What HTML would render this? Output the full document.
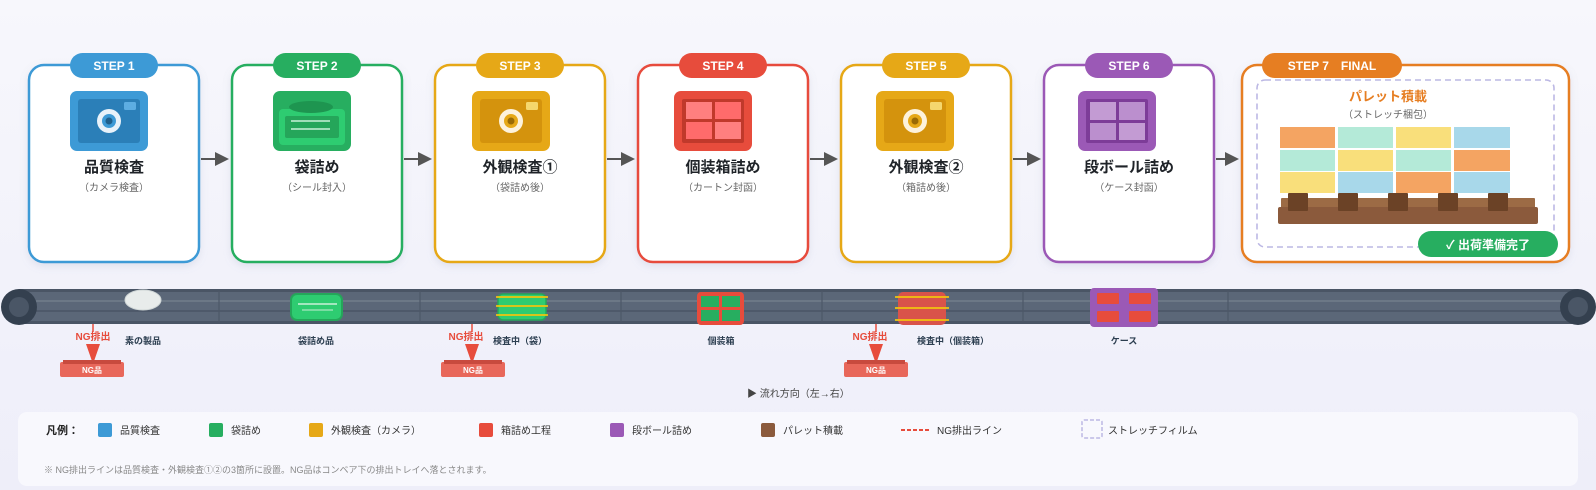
<!DOCTYPE html>
<html><head><meta charset="utf-8">
<style>
html,body{margin:0;padding:0;width:1596px;height:490px;overflow:hidden;background:#f2f2fb;}
svg{display:block;font-family:"Liberation Sans","Noto Sans CJK JP",sans-serif;}
</style></head><body>
<svg width="1596" height="490" viewBox="0 0 1596 490" xmlns="http://www.w3.org/2000/svg">
<defs>
<linearGradient id="bg" x1="0" y1="0" x2="0" y2="1"><stop offset="0" stop-color="#f7f7fc"/><stop offset="1" stop-color="#eeeef9"/></linearGradient>
<filter id="sh" x="-10%" y="-10%" width="120%" height="130%"><feDropShadow dx="0" dy="3" stdDeviation="4" flood-color="#8890b0" flood-opacity="0.18"/></filter>
</defs>
<rect width="1596" height="490" fill="url(#bg)"/>

<!-- Cards -->
<g filter="url(#sh)" stroke-width="2.5" fill="#fff">
<rect x="29" y="65" width="170" height="197" rx="15" stroke="#3d9ad6"/>
<rect x="232" y="65" width="170" height="197" rx="15" stroke="#27ae60"/>
<rect x="435" y="65" width="170" height="197" rx="15" stroke="#e6a817"/>
<rect x="638" y="65" width="170" height="197" rx="15" stroke="#e74c3c"/>
<rect x="841" y="65" width="170" height="197" rx="15" stroke="#e6a817"/>
<rect x="1044" y="65" width="170" height="197" rx="15" stroke="#9b59b6"/>
<rect x="1242" y="65" width="327" height="197" rx="15" stroke="#e67e22"/>
</g>

<!-- Badges -->
<g font-size="12" font-weight="bold" fill="#fff" text-anchor="middle">
<rect x="70" y="53" width="88" height="25" rx="12.5" fill="#3d9ad6"/><text x="114" y="70" fill="#fff">STEP 1</text>
<rect x="273" y="53" width="88" height="25" rx="12.5" fill="#27ae60"/><text x="317" y="70" fill="#fff">STEP 2</text>
<rect x="476" y="53" width="88" height="25" rx="12.5" fill="#e6a817"/><text x="520" y="70" fill="#fff">STEP 3</text>
<rect x="679" y="53" width="88" height="25" rx="12.5" fill="#e74c3c"/><text x="723" y="70" fill="#fff">STEP 4</text>
<rect x="882" y="53" width="88" height="25" rx="12.5" fill="#e6a817"/><text x="926" y="70" fill="#fff">STEP 5</text>
<rect x="1085" y="53" width="88" height="25" rx="12.5" fill="#9b59b6"/><text x="1129" y="70" fill="#fff">STEP 6</text>
<rect x="1262" y="53" width="140" height="25" rx="12.5" fill="#e67e22"/><text x="1332" y="70" fill="#fff">STEP 7　FINAL</text>
</g>

<!-- Icons -->
<!-- 1 camera blue -->
<rect x="70" y="91" width="78" height="60" rx="7" fill="#3d9ad6"/>
<rect x="78" y="99" width="62" height="44" rx="3" fill="#2b7fb8"/>
<rect x="124" y="102" width="12" height="8" rx="1.5" fill="#5dade2"/>
<circle cx="109" cy="121" r="12" fill="#e8f2fa"/><circle cx="109" cy="121" r="7" fill="#3d9ad6"/><circle cx="109" cy="121" r="3.5" fill="#1f5f8b"/>
<!-- 2 bag -->
<rect x="273" y="91" width="78" height="60" rx="7" fill="#27ae60"/>
<rect x="279" y="109" width="66" height="36" rx="4" fill="#2ecc71"/>
<rect x="285" y="116" width="54" height="22" rx="2" fill="#25a65a"/>
<ellipse cx="311" cy="107" rx="22" ry="6" fill="#1e9550"/>
<line x1="291" y1="121" x2="330" y2="121" stroke="#c8f0d8" stroke-width="1.6"/><line x1="291" y1="129" x2="330" y2="129" stroke="#c8f0d8" stroke-width="1.6"/>
<!-- 3 camera yellow -->
<rect x="472" y="91" width="78" height="60" rx="7" fill="#e6a817"/>
<rect x="480" y="99" width="62" height="44" rx="3" fill="#d4930d"/>
<rect x="526" y="102" width="12" height="8" rx="1.5" fill="#f5d76e"/>
<circle cx="511" cy="121" r="12" fill="#fdf2dc"/><circle cx="511" cy="121" r="7" fill="#e6a817"/><circle cx="511" cy="121" r="3.5" fill="#9a6a05"/>
<!-- 4 box red -->
<rect x="674" y="91" width="78" height="60" rx="7" fill="#e74c3c"/>
<rect x="682" y="99" width="62" height="44" rx="2" fill="#c0392b"/>
<rect x="686" y="102" width="26" height="17" fill="#ff7f7f"/><rect x="715" y="102" width="26" height="17" fill="#ff6b6b"/>
<rect x="686" y="122" width="26" height="17" fill="#ff6b6b"/><rect x="715" y="122" width="26" height="17" fill="#ff7f7f"/>
<!-- 5 camera yellow -->
<rect x="876" y="91" width="78" height="60" rx="7" fill="#e6a817"/>
<rect x="884" y="99" width="62" height="44" rx="3" fill="#d4930d"/>
<rect x="930" y="102" width="12" height="8" rx="1.5" fill="#f5d76e"/>
<circle cx="915" cy="121" r="12" fill="#fdf2dc"/><circle cx="915" cy="121" r="7" fill="#e6a817"/><circle cx="915" cy="121" r="3.5" fill="#9a6a05"/>
<!-- 6 purple box -->
<rect x="1078" y="91" width="78" height="60" rx="7" fill="#9b59b6"/>
<rect x="1086" y="99" width="62" height="44" rx="2" fill="#7d3c98"/>
<rect x="1090" y="102" width="26" height="18" fill="#c39bd3"/><rect x="1119" y="102" width="26" height="18" fill="#bb8fce"/>
<rect x="1090" y="123" width="26" height="17" fill="#bb8fce"/><rect x="1119" y="123" width="26" height="17" fill="#c39bd3"/>

<!-- Titles -->
<g text-anchor="middle">
<g font-size="15" font-weight="bold" fill="#1f2328">
<text x="114" y="172">品質検査</text>
<text x="317" y="172">袋詰め</text>
<text x="520" y="172">外観検査①</text>
<text x="723" y="172">個装箱詰め</text>
<text x="926" y="172">外観検査②</text>
<text x="1129" y="172">段ボール詰め</text>
</g>
<g font-size="10" fill="#666">
<text x="114" y="191">（カメラ検査）</text>
<text x="317" y="191">（シール封入）</text>
<text x="520" y="191">（袋詰め後）</text>
<text x="723" y="191">（カートン封函）</text>
<text x="926" y="191">（箱詰め後）</text>
<text x="1129" y="191">（ケース封函）</text>
</g>
</g>

<!-- Arrows -->
<g fill="#555" stroke="#555" stroke-width="2">
<line x1="201" y1="159" x2="216" y2="159"/><polygon points="215,152 229,159 215,166" stroke="none"/>
<line x1="404" y1="159" x2="419" y2="159"/><polygon points="418,152 432,159 418,166" stroke="none"/>
<line x1="607" y1="159" x2="622" y2="159"/><polygon points="621,152 635,159 621,166" stroke="none"/>
<line x1="810" y1="159" x2="825" y2="159"/><polygon points="824,152 838,159 824,166" stroke="none"/>
<line x1="1013" y1="159" x2="1028" y2="159"/><polygon points="1027,152 1041,159 1027,166" stroke="none"/>
<line x1="1216" y1="159" x2="1226" y2="159"/><polygon points="1225,152 1239,159 1225,166" stroke="none"/>
</g>

<!-- Step 7 interior -->
<rect x="1257" y="80" width="297" height="167" rx="8" fill="none" stroke="#bcb8e4" stroke-width="1.6" stroke-dasharray="6,4"/>
<text x="1388" y="101" text-anchor="middle" font-size="13" font-weight="bold" fill="#e67e22">パレット積載</text>
<text x="1388" y="118" text-anchor="middle" font-size="10" fill="#666">（ストレッチ梱包）</text>
<g>
<rect x="1280" y="127" width="55" height="21" fill="#f4a462"/><rect x="1338" y="127" width="55" height="21" fill="#b4ead8"/><rect x="1396" y="127" width="55" height="21" fill="#f9df7b"/><rect x="1454" y="127" width="56" height="21" fill="#a8d8ea"/>
<rect x="1280" y="150" width="55" height="21" fill="#b4ead8"/><rect x="1338" y="150" width="55" height="21" fill="#f9df7b"/><rect x="1396" y="150" width="55" height="21" fill="#b4ead8"/><rect x="1454" y="150" width="56" height="21" fill="#f4a462"/>
<rect x="1280" y="172" width="55" height="21" fill="#f9df7b"/><rect x="1338" y="172" width="55" height="21" fill="#a8d8ea"/><rect x="1396" y="172" width="55" height="21" fill="#f4a462"/><rect x="1454" y="172" width="56" height="21" fill="#a8d8ea"/>
<rect x="1281" y="198" width="254" height="11" rx="1" fill="#9c6b45"/>
<rect x="1278" y="207" width="260" height="17" rx="2" fill="#8b5a3c"/>
<rect x="1288" y="193" width="20" height="18" rx="1" fill="#6b4226"/><rect x="1338" y="193" width="20" height="18" rx="1" fill="#6b4226"/><rect x="1388" y="193" width="20" height="18" rx="1" fill="#6b4226"/><rect x="1438" y="193" width="20" height="18" rx="1" fill="#6b4226"/><rect x="1488" y="193" width="20" height="18" rx="1" fill="#6b4226"/>
</g>
<rect x="1418" y="231" width="140" height="26" rx="13" fill="#27ae60"/>
<text x="1488" y="249" text-anchor="middle" font-size="12" font-weight="bold" fill="#fff">✓ 出荷準備完了</text>

<!-- Conveyor -->
<rect x="19" y="289" width="1559" height="35" fill="#5b6778"/>
<rect x="19" y="289" width="1559" height="3" fill="#4a5565"/>
<rect x="19" y="321" width="1559" height="3" fill="#4a5565"/>
<line x1="19" y1="301" x2="1578" y2="301" stroke="#76828f" stroke-width="1.2"/>
<line x1="19" y1="311" x2="1578" y2="311" stroke="#4a5565" stroke-width="1.5"/>
<g stroke="#4d5868" stroke-width="1.2">
<line x1="219" y1="291" x2="219" y2="322"/><line x1="420" y1="291" x2="420" y2="322"/><line x1="621" y1="291" x2="621" y2="322"/><line x1="822" y1="291" x2="822" y2="322"/><line x1="1023" y1="291" x2="1023" y2="322"/><line x1="1228" y1="291" x2="1228" y2="322"/>
</g>
<circle cx="19" cy="307" r="18" fill="#34404f"/><circle cx="19" cy="307" r="10" fill="#4a5666"/>
<circle cx="1578" cy="307" r="18" fill="#34404f"/><circle cx="1578" cy="307" r="10" fill="#4a5666"/>

<!-- items -->
<ellipse cx="143" cy="300" rx="18" ry="10" fill="#e8eceb" stroke="#cfd6d6" stroke-width="1"/>
<rect x="291" y="294" width="51" height="26" rx="6" fill="#2ecc71" stroke="#25a65a" stroke-width="2"/>
<line x1="298" y1="304" x2="337" y2="304" stroke="#c8f0d8" stroke-width="1.5"/><line x1="302" y1="310" x2="333" y2="310" stroke="#a8e6c0" stroke-width="1.3"/>
<rect x="498" y="294" width="48" height="26" rx="5" fill="#2ecc71" stroke="#25a65a" stroke-width="1.5"/>
<g stroke="#f1c40f" stroke-width="1.8"><line x1="496" y1="297" x2="548" y2="297"/><line x1="496" y1="306" x2="548" y2="306"/><line x1="496" y1="315" x2="548" y2="315"/></g>
<rect x="697" y="292" width="47" height="33" rx="4" fill="#e74c3c"/>
<rect x="701" y="296" width="18" height="11" fill="#27ae60"/><rect x="722" y="296" width="18" height="11" fill="#27ae60"/>
<rect x="701" y="310" width="18" height="11" fill="#27ae60"/><rect x="722" y="310" width="18" height="11" fill="#27ae60"/>
<rect x="898" y="292" width="48" height="33" rx="5" fill="#d9534a"/>
<g stroke="#f1c40f" stroke-width="1.8"><line x1="895" y1="297" x2="949" y2="297"/><line x1="895" y1="308" x2="949" y2="308"/><line x1="895" y1="320" x2="949" y2="320"/></g>
<rect x="1090" y="288" width="68" height="39" rx="4" fill="#9b59b6"/>
<rect x="1097" y="293" width="22" height="11" rx="1" fill="#e74c3c"/><rect x="1129" y="293" width="22" height="11" rx="1" fill="#e74c3c"/>
<rect x="1097" y="311" width="22" height="11" rx="1" fill="#e74c3c"/><rect x="1129" y="311" width="22" height="11" rx="1" fill="#e74c3c"/>

<g font-size="9" font-weight="bold" fill="#2c3e50" text-anchor="middle">
<text x="143" y="344">素の製品</text>
<text x="316" y="344">袋詰め品</text>
<text x="520" y="344">検査中（袋）</text>
<text x="721" y="344">個装箱</text>
<text x="953" y="344">検査中（個装箱）</text>
<text x="1124" y="344">ケース</text>
</g>

<!-- NG -->
<g>
<line x1="93" y1="324" x2="93" y2="332" stroke="#e74c3c" stroke-width="1.5"/>
<text x="93" y="340" text-anchor="middle" font-size="10" font-weight="bold" fill="#e74c3c">NG排出</text>
<polygon points="86,344 100,344 93,364" fill="#e74c3c"/>
<rect x="60" y="362" width="64" height="15" rx="2" fill="#e8675a"/><rect x="63" y="360" width="58" height="4" fill="#c84a3e"/>
<text x="92" y="373" text-anchor="middle" font-size="8" font-weight="bold" fill="#fff">NG品</text>

<line x1="472" y1="324" x2="472" y2="332" stroke="#e74c3c" stroke-width="1.5"/>
<text x="466" y="340" text-anchor="middle" font-size="10" font-weight="bold" fill="#e74c3c">NG排出</text>
<polygon points="465,344 479,344 472,364" fill="#e74c3c"/>
<rect x="441" y="362" width="64" height="15" rx="2" fill="#e8675a"/><rect x="444" y="360" width="58" height="4" fill="#c84a3e"/>
<text x="473" y="373" text-anchor="middle" font-size="8" font-weight="bold" fill="#fff">NG品</text>

<line x1="876" y1="324" x2="876" y2="332" stroke="#e74c3c" stroke-width="1.5"/>
<text x="870" y="340" text-anchor="middle" font-size="10" font-weight="bold" fill="#e74c3c">NG排出</text>
<polygon points="869,344 883,344 876,364" fill="#e74c3c"/>
<rect x="844" y="362" width="64" height="15" rx="2" fill="#e8675a"/><rect x="847" y="360" width="58" height="4" fill="#c84a3e"/>
<text x="876" y="373" text-anchor="middle" font-size="8" font-weight="bold" fill="#fff">NG品</text>
</g>

<text x="747" y="397" font-size="10" fill="#444">▶ 流れ方向（左→右）</text>

<!-- Legend -->
<rect x="18" y="412" width="1560" height="74" rx="9" fill="#f8f8fd"/>
<g font-size="10" fill="#333">
<text x="46" y="434" font-size="11" font-weight="bold" fill="#222">凡例：</text>
<rect x="98" y="423" width="14" height="14" rx="2" fill="#3d9ad6"/><text x="120" y="434">品質検査</text>
<rect x="209" y="423" width="14" height="14" rx="2" fill="#27ae60"/><text x="231" y="434">袋詰め</text>
<rect x="309" y="423" width="14" height="14" rx="2" fill="#e6a817"/><text x="331" y="434">外観検査（カメラ）</text>
<rect x="479" y="423" width="14" height="14" rx="2" fill="#e74c3c"/><text x="501" y="434">箱詰め工程</text>
<rect x="610" y="423" width="14" height="14" rx="2" fill="#9b59b6"/><text x="632" y="434">段ボール詰め</text>
<rect x="761" y="423" width="14" height="14" rx="2" fill="#8b5a3c"/><text x="783" y="434">パレット積載</text>
<line x1="901" y1="430" x2="929" y2="430" stroke="#e74c3c" stroke-width="2" stroke-dasharray="4,2"/><text x="937" y="434">NG排出ライン</text>
<rect x="1082" y="420" width="20" height="18" rx="2" fill="none" stroke="#bcb8e4" stroke-width="1.5" stroke-dasharray="4,2"/><text x="1108" y="434">ストレッチフィルム</text>
<text x="44" y="473" font-size="9" fill="#888">※ NG排出ラインは品質検査・外観検査①②の3箇所に設置。NG品はコンベア下の排出トレイへ落とされます。</text>
</g>
</svg>
</body></html>
